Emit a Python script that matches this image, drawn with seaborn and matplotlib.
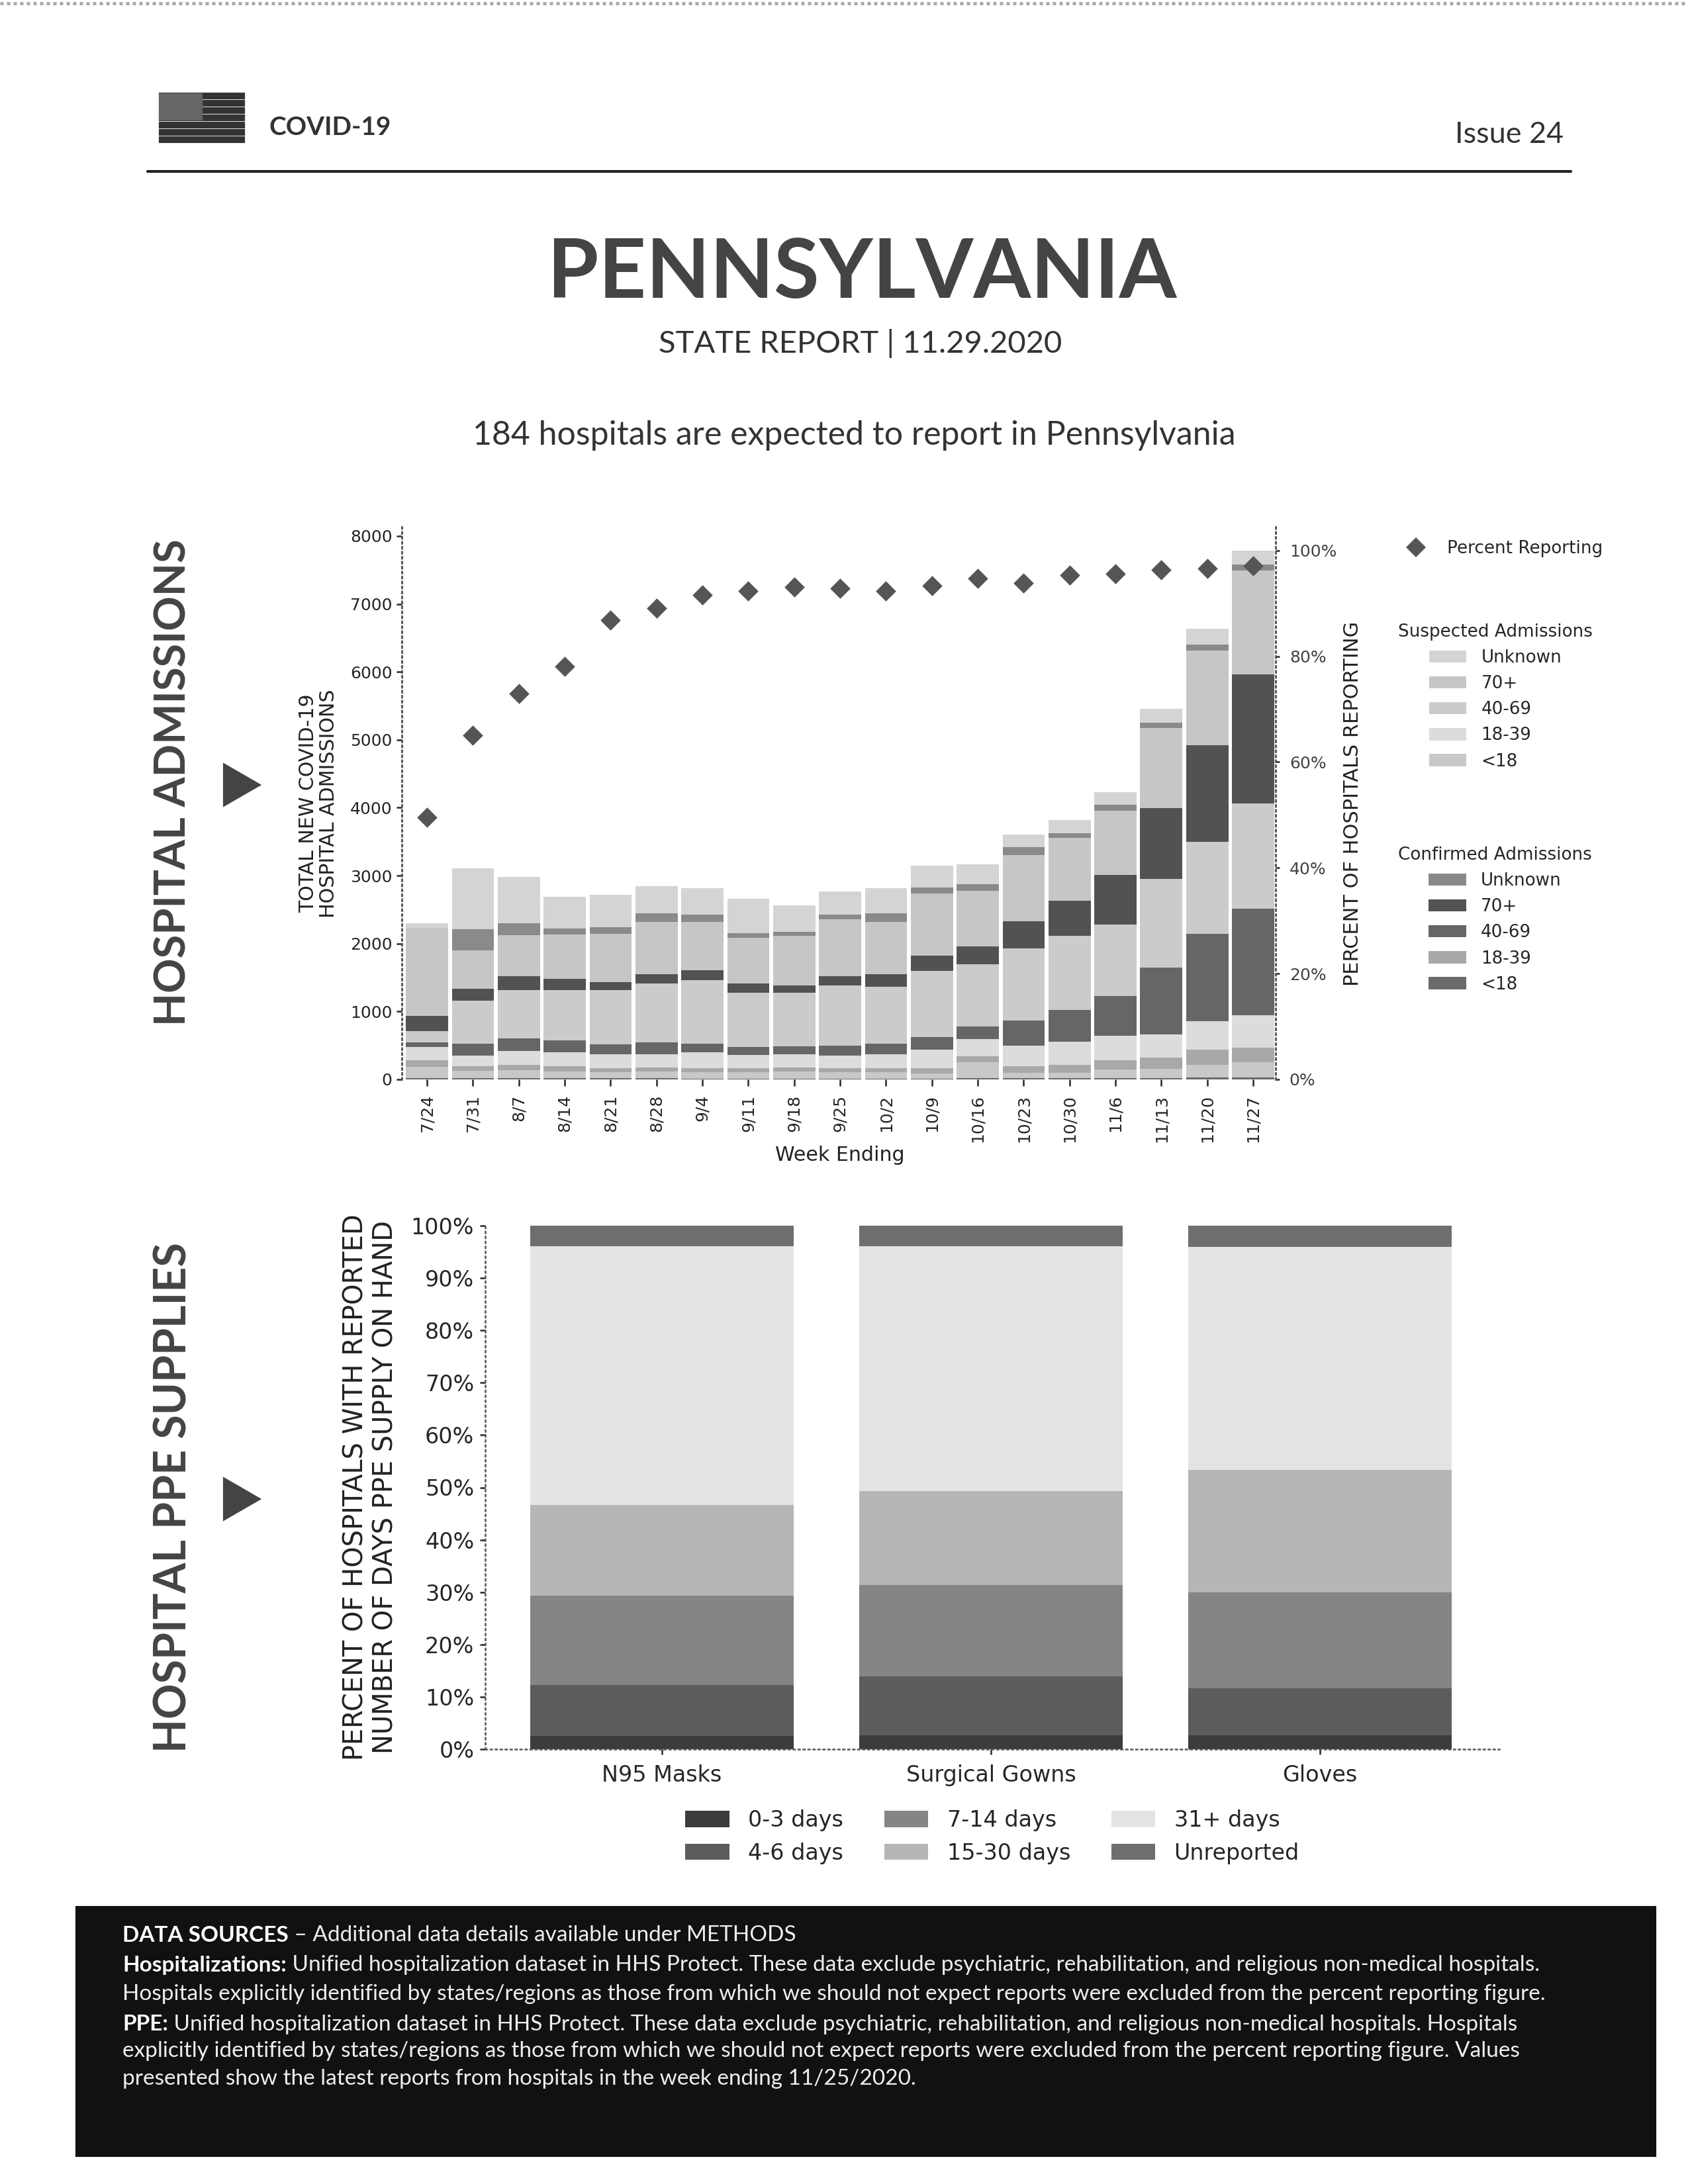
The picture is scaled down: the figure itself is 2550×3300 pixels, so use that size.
import numpy as np
import pandas as pd
import matplotlib
matplotlib.use("Agg")
import matplotlib.pyplot as plt
from matplotlib.lines import Line2D
from matplotlib.patches import Patch, Polygon, Rectangle
from matplotlib.ticker import PercentFormatter
import seaborn as sns

# =============================================================================
# Data read from the page
# =============================================================================
WEEKS = ["7/24", "7/31", "8/7", "8/14", "8/21", "8/28", "9/4", "9/11", "9/18", "9/25",
         "10/2", "10/9", "10/16", "10/23", "10/30", "11/6", "11/13", "11/20", "11/27"]

CONF_LT18 = [20, 20, 20, 15, 15, 15, 10, 10, 10, 10, 10, 12, 20, 15, 15, 15, 20, 25, 25]
SUSP_LT18 = [166, 110, 120, 105, 95, 105, 100, 100, 110, 100, 100, 78, 229, 78, 78, 128, 135, 193, 224]
CONF_18_39 = [94, 60, 70, 70, 60, 60, 60, 60, 60, 55, 60, 80, 93, 106, 125, 137, 168, 217, 217]
SUSP_18_39 = [199, 164, 206, 214, 203, 193, 234, 191, 193, 189, 203, 265, 248, 298, 341, 360, 342, 423, 479]
CONF_40_69 = [68, 174, 187, 168, 143, 174, 124, 118, 112, 143, 155, 187, 187, 373, 467, 591, 982, 1287, 1572]
SUSP_40_69 = [168, 634, 715, 746, 796, 864, 933, 795, 789, 889, 840, 976, 920, 1057, 1087, 1050, 1306, 1355, 1542]
CONF_70 = [217, 174, 205, 161, 118, 143, 143, 137, 112, 137, 186, 223, 261, 404, 516, 734, 1038, 1423, 1908]
SUSP_70 = [1300, 560, 603, 653, 715, 765, 715, 671, 727, 839, 765, 914, 821, 976, 931, 945, 1187, 1386, 1523]
CONF_UNK = [0, 311, 174, 93, 93, 124, 105, 75, 63, 62, 124, 93, 93, 112, 60, 80, 75, 94, 93]
SUSP_UNK = [68, 901, 684, 460, 485, 398, 392, 503, 391, 342, 373, 324, 292, 186, 203, 187, 205, 230, 206]

PCT_REPORTING = [49.6, 65.1, 72.9, 78.1, 86.8, 89.1, 91.6, 92.3, 93.1, 92.9,
                 92.3, 93.3, 94.7, 93.9, 95.4, 95.6, 96.4, 96.6, 97.1]

PPE_ITEMS = ["N95 Masks", "Surgical Gowns", "Gloves"]
PPE_0_3 = [2.5, 2.7, 2.7]
PPE_4_6 = [9.7, 11.2, 8.9]
PPE_7_14 = [17.1, 17.4, 18.3]
PPE_15_30 = [17.4, 18.0, 23.4]
PPE_31 = [49.4, 46.8, 42.6]
PPE_UNREPORTED = [3.9, 3.9, 4.1]

AGE_LABELS = ["Unknown", "70+", "40-69", "18-39", "<18"]
PPE_LABELS = ["0-3 days", "4-6 days", "7-14 days", "15-30 days", "31+ days", "Unreported"]

# bottom to top
ADMISSION_STACK = [
    (CONF_LT18, "#6a6a6a"), (SUSP_LT18, "#c8c8c8"),
    (CONF_18_39, "#a8a8a8"), (SUSP_18_39, "#dcdcdc"),
    (CONF_40_69, "#666666"), (SUSP_40_69, "#cbcbcb"),
    (CONF_70, "#525252"), (SUSP_70, "#c6c6c6"),
    (CONF_UNK, "#8a8a8a"), (SUSP_UNK, "#d4d4d4"),
]
SUSP_COLORS = ["#d4d4d4", "#c6c6c6", "#cbcbcb", "#dcdcdc", "#c8c8c8"]
CONF_COLORS = ["#8a8a8a", "#525252", "#666666", "#a8a8a8", "#6a6a6a"]
PPE_COLORS = ["#3c3c3c", "#5c5c5c", "#858585", "#b6b6b6", "#e4e4e4", "#6e6e6e"]
PPE_STACK = [PPE_0_3, PPE_4_6, PPE_7_14, PPE_15_30, PPE_31, PPE_UNREPORTED]

W, H = 2550, 3300
PAGE_FONT = "Lato"
DOTTED = (0, (1, 2))

sns.set_theme(style="ticks")
plt.rcParams["font.family"] = ["DejaVu Sans"]


def fx(x):
    return x / W


def fy(y):
    return 1 - y / H


def add_axes_px(fig, left, right, top, bottom):
    return fig.add_axes([fx(left), fy(bottom), (right - left) / W, (bottom - top) / H])


def page_text(fig, x, y, s, size, weight="normal", ha="left", rotation=0, color="#222222"):
    return fig.text(fx(x), fy(y), s, fontsize=size, fontweight=weight, ha=ha, va="center",
                    rotation=rotation, color=color, family=PAGE_FONT)


def stacked_bars(ax, labels, stack, colors, width):
    # cumulative heights, tallest first, each one painted over the last
    tops = np.cumsum(np.array(stack, dtype=float), axis=0)
    for top, color in reversed(list(zip(tops, colors))):
        df = pd.DataFrame({"label": labels, "top": top})
        sns.barplot(data=df, x="label", y="top", color=color, saturation=1, width=width,
                    linewidth=0, ax=ax)


def style_spine(spine):
    spine.set_linestyle(DOTTED)
    spine.set_linewidth(0.6)
    spine.set_color("#555555")


# =============================================================================
# Page furniture
# =============================================================================
def draw_header(fig):
    for i in range(7):
        fig.add_artist(Rectangle((fx(242), fy(148 + i * 11)), 126 / W, 6 / H, color="#333333",
                                 transform=fig.transFigure))
    fig.add_artist(Rectangle((fx(242), fy(180)), 62 / W, 37 / H, color="#666666",
                             transform=fig.transFigure))
    page_text(fig, 406, 193, "COVID-19", 9.3, "bold", color="#333333")
    page_text(fig, 2362, 204, "Issue 24", 10.8, ha="right", color="#333333")
    fig.add_artist(Line2D([fx(223), fx(2373)], [fy(259), fy(259)], color="#222222", lw=1.0))
    fig.add_artist(Line2D([0, 1], [fy(5), fy(5)], color="#aaaaaa", lw=1.2, ls=(0, (1, 1))))

    page_text(fig, 1302, 414, "PENNSYLVANIA", 30, "bold", ha="center", color="#444444")
    page_text(fig, 1300, 519, "STATE REPORT | 11.29.2020", 11.3, ha="center", color="#333333")
    page_text(fig, 1290, 658, "184 hospitals are expected to report in Pennsylvania", 12.0,
              ha="center", color="#333333")

    page_text(fig, 262, 1182, "HOSPITAL ADMISSIONS", 15.6, "bold", ha="center", rotation=90, color="#444444")
    page_text(fig, 262, 2263, "HOSPITAL PPE SUPPLIES", 15.9, "bold", ha="center", rotation=90, color="#444444")
    for mid in (1186, 2265):
        fig.add_artist(Polygon([(fx(339), fy(mid - 30)), (fx(391), fy(mid)), (fx(339), fy(mid + 30))],
                               closed=True, color="#444444", transform=fig.transFigure))


def draw_footer(fig):
    fig.add_artist(Rectangle((fx(116), fy(3257)), 2384 / W, 375 / H, color="#111111",
                             transform=fig.transFigure))
    lines = [
        (2920, "DATA SOURCES", " \u2013 Additional data details available under METHODS"),
        (2965, "Hospitalizations:", " Unified hospitalization dataset in HHS Protect. These data exclude "
               "psychiatric, rehabilitation, and religious non-medical hospitals."),
        (3009, "", "Hospitals explicitly identified by states/regions as those from which we should not "
               "expect reports were excluded from the percent reporting figure."),
        (3055, "PPE:", " Unified hospitalization dataset in HHS Protect. These data exclude psychiatric, "
               "rehabilitation, and religious non-medical hospitals. Hospitals"),
        (3095, "", "explicitly identified by states/regions as those from which we should not expect "
               "reports were excluded from the percent reporting figure. Values"),
        (3137, "", "presented show the latest reports from hospitals in the week ending 11/25/2020."),
    ]
    renderer = fig.canvas.get_renderer()
    for y, bold, rest in lines:
        x = 185
        if bold:
            t = page_text(fig, x, y + 4, bold, 8.0, "bold", color="white")
            x = t.get_window_extent(renderer).x1
        page_text(fig, x, y + 4, rest, 8.0, color="#eeeeee")


# =============================================================================
# Hospital admissions
# =============================================================================
def plot_admissions(fig):
    ax = add_axes_px(fig, 607, 1927, 793, 1631)
    stacked_bars(ax, WEEKS, [s for s, _ in ADMISSION_STACK], [c for _, c in ADMISSION_STACK], 0.92)
    ax.set_xlim(-0.55, 18.49)
    ax.set_ylim(0, 8165)
    ax.set_yticks(range(0, 8001, 1000))
    ax.set_xlabel("")
    ax.set_ylabel("")
    ax.tick_params(axis="x", labelsize=6, rotation=90, length=2.5, width=0.6, pad=3)
    ax.tick_params(axis="y", labelsize=6, length=2, width=0.6, pad=1.5)

    ax2 = ax.twinx()
    sns.scatterplot(x=np.arange(len(WEEKS)), y=PCT_REPORTING, marker="D", s=27, color="#555555",
                    linewidth=0, zorder=5, ax=ax2)
    ax2.set_ylim(0, 8165 / 8000 * 102.73)
    ax2.set_yticks(range(0, 101, 20))
    ax2.yaxis.set_major_formatter(PercentFormatter(100, decimals=0))
    ax2.tick_params(axis="y", labelsize=6, length=1.5, width=0.6, pad=3.5, labelcolor="#444444")

    for a in (ax, ax2):
        a.spines["top"].set_visible(False)
        a.spines["bottom"].set_visible(False)
        style_spine(a.spines["left"])
        style_spine(a.spines["right"])

    fig.text(fx(481), fy(1214), "TOTAL NEW COVID-19\nHOSPITAL ADMISSIONS", fontsize=7.2, rotation=90,
             ha="center", va="center", linespacing=1.05, color="#222222")
    fig.text(fx(2043), fy(1214), "PERCENT OF HOSPITALS REPORTING", fontsize=7.3, rotation=90,
             ha="center", va="center", color="#222222")
    fig.text(fx(1269), fy(1746), "Week Ending", fontsize=7.2, ha="center", va="center", color="#222222")

    legend_kws = dict(frameon=False, fontsize=6.3, title_fontsize=6.3, loc="upper left", labelspacing=0.5,
                      handlelength=2.15, handleheight=0.7, handletextpad=0.85, borderpad=0, borderaxespad=0)
    fig.legend(handles=[Line2D([], [], marker="D", ls="", ms=5.2, color="#555555", mew=0)],
               labels=["Percent Reporting"], bbox_to_anchor=(fx(2122), fy(816)),
               **{**legend_kws, "handlelength": 1.3, "handletextpad": 1.15})
    for title, colors, y in (("Suspected Admissions", SUSP_COLORS, 942),
                             ("Confirmed Admissions", CONF_COLORS, 1279)):
        fig.legend(handles=[Patch(color=c, lw=0) for c in colors], labels=AGE_LABELS,
                   title=title, bbox_to_anchor=(fx(2112), fy(y)), **legend_kws)


# =============================================================================
# Hospital PPE supplies
# =============================================================================
def plot_ppe(fig):
    ax = add_axes_px(fig, 733, 2265, 1852, 2643)
    stacked_bars(ax, PPE_ITEMS, PPE_STACK, PPE_COLORS, 0.8)
    ax.set_xlim(-0.537, 2.545)
    ax.set_ylim(0, 100)
    ax.set_yticks(range(0, 101, 10))
    ax.yaxis.set_major_formatter(PercentFormatter(100, decimals=0))
    ax.set_xlabel("")
    ax.set_ylabel("")
    ax.tick_params(axis="x", labelsize=8, length=2, width=0.6, pad=3.5)
    ax.tick_params(axis="y", labelsize=8, length=2, width=0.6, pad=2)
    ax.spines["top"].set_visible(False)
    ax.spines["right"].set_visible(False)
    style_spine(ax.spines["left"])
    style_spine(ax.spines["bottom"])

    fig.text(fx(560), fy(2247), "PERCENT OF HOSPITALS WITH REPORTED\nNUMBER OF DAYS PPE SUPPLY ON HAND",
             fontsize=9.6, rotation=90, ha="center", va="center", linespacing=1.17, color="#222222")
    fig.legend(handles=[Patch(color=c, lw=0) for c in PPE_COLORS], labels=PPE_LABELS, ncols=3,
               frameon=False, fontsize=8, loc="upper left", bbox_to_anchor=(fx(1035), fy(2734)),
               labelspacing=0.5, columnspacing=1.85, handlelength=2.0, handleheight=0.75,
               handletextpad=0.85, borderpad=0, borderaxespad=0)


def run():
    fig = plt.figure(figsize=(8.5, 11), dpi=300, facecolor="white")
    draw_header(fig)
    plot_admissions(fig)
    plot_ppe(fig)
    draw_footer(fig)
    fig.savefig("out.png", dpi=300)
    plt.close(fig)


if __name__ == "__main__":
    run()
